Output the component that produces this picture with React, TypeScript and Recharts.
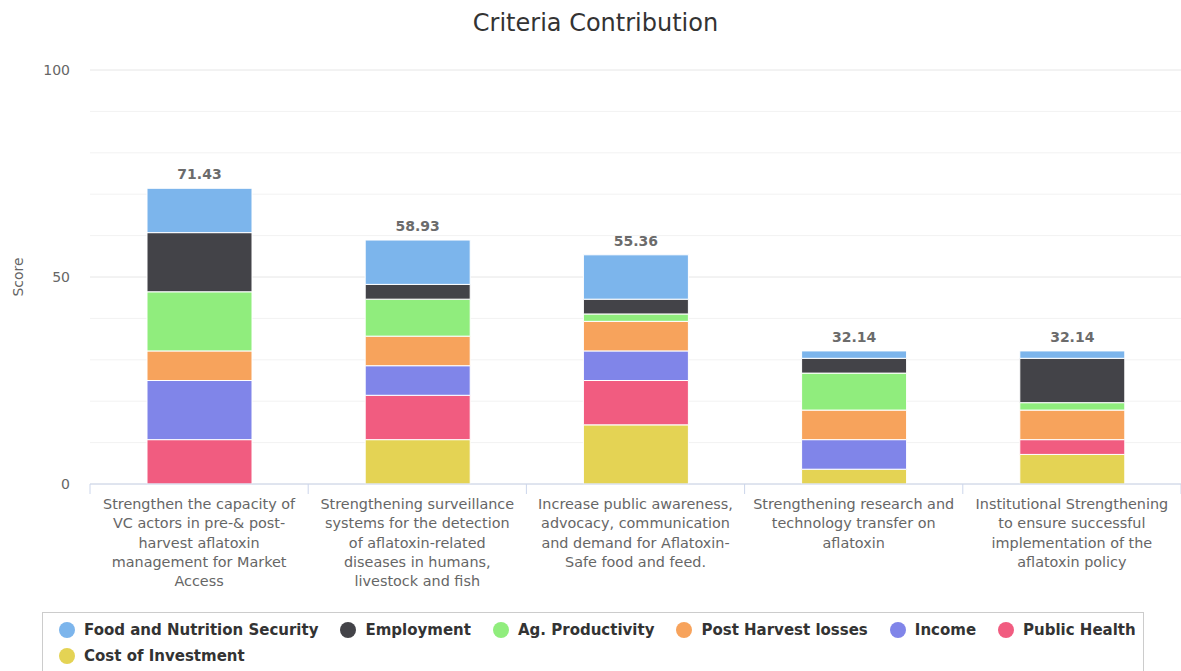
import React from 'react';
import { BarChart, Bar, XAxis, YAxis, CartesianGrid, LabelList } from 'recharts';

const categories = [
  'Strengthen the capacity of VC actors in pre-& post-harvest aflatoxin management for Market Access',
  'Strengthening surveillance systems for the detection of aflatoxin-related diseases in humans, livestock and fish',
  'Increase public awareness, advocacy, communication and demand for Aflatoxin-Safe food and feed.',
  'Strengthening research and technology transfer on aflatoxin',
  'Institutional Strengthening to ensure successful implementation of the aflatoxin policy',
];

const foodNutrition = [10.714, 10.714, 10.714, 1.786, 1.786];
const employment = [14.286, 3.571, 3.571, 3.571, 10.714];
const agProductivity = [14.286, 8.929, 1.786, 8.929, 1.786];
const postHarvest = [7.143, 7.143, 7.143, 7.143, 7.143];
const income = [14.286, 7.143, 7.143, 7.143, 0];
const publicHealth = [10.714, 10.714, 10.714, 0, 3.571];
const costInvestment = [0, 10.714, 14.286, 3.571, 7.143];

const majorTicks = [0, 50, 100];
const minorTicks = [10, 20, 30, 40, 60, 70, 80, 90];

// stacking order: bottom to top
const series = [
  { key: 'cost', name: 'Cost of Investment', values: costInvestment, color: '#e4d354' },
  { key: 'health', name: 'Public Health', values: publicHealth, color: '#f15c80' },
  { key: 'income', name: 'Income', values: income, color: '#8085e9' },
  { key: 'post', name: 'Post Harvest losses', values: postHarvest, color: '#f7a35c' },
  { key: 'ag', name: 'Ag. Productivity', values: agProductivity, color: '#90ed7d' },
  { key: 'emp', name: 'Employment', values: employment, color: '#434348' },
  { key: 'food', name: 'Food and Nutrition Security', values: foodNutrition, color: '#7cb5ec' },
];

const legendOrder = ['food', 'emp', 'ag', 'post', 'income', 'health', 'cost'];

const data = categories.map((c, i) => {
  const row: any = { category: c };
  let total = 0;
  series.forEach((s) => {
    row[s.key] = s.values[i];
    total += s.values[i];
  });
  row.total = total;
  return row;
});

const FONT = '"DejaVu Sans", "Open Sans", sans-serif';
const LABEL_SIZE = 14.4;

let ctx: CanvasRenderingContext2D | null = null;
function measure(s: string) {
  if (!ctx) {
    const c = document.createElement('canvas');
    ctx = c.getContext('2d');
  }
  if (!ctx) return s.length * 8;
  ctx.font = `${LABEL_SIZE}px "DejaVu Sans"`;
  return ctx.measureText(s).width;
}

function wrap(text: string, limit: number) {
  const pieces: { t: string; sep: string }[] = [];
  text.split(' ').forEach((w, wi) => {
    const parts = w.split(/(?<=-)/);
    parts.forEach((p, pi) => pieces.push({ t: p, sep: pi === 0 && wi > 0 ? ' ' : '' }));
  });
  const lines: string[] = [];
  let line = '';
  pieces.forEach((p) => {
    const cand = line === '' ? p.t : line + p.sep + p.t;
    if (line !== '' && measure(cand) > limit) {
      lines.push(line);
      line = p.t;
    } else {
      line = cand;
    }
  });
  if (line) lines.push(line);
  return lines;
}

const XTick = (props: any) => {
  const { x, y, payload, width, visibleTicksCount, index } = props;
  const band = width / visibleTicksCount;
  const lines = wrap(String(payload.value), 201);
  return (
    <g>
      <line x1={x - band / 2} x2={x - band / 2} y1={y} y2={y + 10} stroke="#ccd6eb" />
      {index === visibleTicksCount - 1 && (
        <line x1={x + band / 2} x2={x + band / 2} y1={y} y2={y + 10} stroke="#ccd6eb" />
      )}
      <text x={x} y={y + 25} textAnchor="middle" fill="#666" style={{ fontSize: LABEL_SIZE, fontFamily: FONT }}>
        {lines.map((l, i) => (
          <tspan key={i} x={x} dy={i === 0 ? 0 : 19.3}>
            {l}
          </tspan>
        ))}
      </text>
    </g>
  );
};

export default function App() {
  return (
    <div style={{ position: 'absolute', left: 0, top: 0, width: 1181, height: 671, background: '#fff', fontFamily: FONT, overflow: 'hidden' }}>
      <div style={{ position: 'absolute', top: 9, left: 10, width: 1171, textAlign: 'center', fontSize: 24, color: '#333' }}>
        Criteria Contribution
      </div>
      <BarChart
        width={1181}
        height={600}
        data={data}
        margin={{ top: 70, right: 0, bottom: 0, left: 0 }}
        style={{ position: 'absolute', left: 0, top: 0 }}
      >
        <CartesianGrid vertical={false} horizontalValues={minorTicks} stroke="#f2f2f2" />
        <CartesianGrid vertical={false} horizontalValues={majorTicks} stroke="#e6e6e6" />
        <XAxis
          dataKey="category"
          height={116}
          interval={0}
          tickSize={0}
          tickMargin={0}
          tickLine={false}
          stroke="#ccd6eb"
          tick={<XTick />}
        />
        <YAxis
          width={90}
          domain={[0, 100]}
          ticks={majorTicks}
          tickSize={0}
          tickMargin={20}
          axisLine={false}
          tickLine={false}
          tick={{ fill: '#666', fontSize: 14, fontFamily: FONT }}
          label={{
            content: (p: any) => {
              const vb = p.viewBox;
              const cx = vb.x + 18;
              const cy = vb.y + vb.height / 2;
              return (
                <text
                  x={cx}
                  y={cy}
                  transform={`rotate(-90 ${cx} ${cy})`}
                  textAnchor="middle"
                  dominantBaseline="central"
                  fill="#666"
                  style={{ fontSize: 14, fontFamily: FONT }}
                >
                  Score
                </text>
              );
            },
          }}
        />
        {series.map((s) => (
          <Bar
            key={s.key}
            dataKey={s.key}
            name={s.name}
            stackId="a"
            fill={s.color}
            stroke="#fff"
            strokeWidth={1}
            barSize={105}
            isAnimationActive={false}
          >
            {s.key === 'food' && (
              <LabelList
                dataKey="total"
                position="top"
                offset={9}
                formatter={(v: any) => Number(v).toFixed(2)}
                style={{ fill: '#6b6b6b', fontSize: 14, fontWeight: 'bold', fontFamily: FONT }}
              />
            )}
          </Bar>
        ))}
      </BarChart>
      <div
        style={{
          position: 'absolute',
          left: 42,
          top: 612,
          width: 1102,
          height: 80,
          border: '1px solid #ccc',
          boxSizing: 'border-box',
          padding: '4px 0 0 16px',
        }}
      >
        {[legendOrder.slice(0, 6), legendOrder.slice(6)].map((row, ri) => (
          <div key={ri} style={{ display: 'flex', height: 26, alignItems: 'center', whiteSpace: 'nowrap' }}>
            {row.map((k) => {
              const s = series.find((x) => x.key === k)!;
              return (
                <div key={k} style={{ display: 'flex', alignItems: 'center', marginRight: 22 }}>
                  <span style={{ width: 16, height: 16, borderRadius: 8, background: s.color, display: 'inline-block', marginRight: 9 }} />
                  <span style={{ fontSize: 15, fontWeight: 'bold', color: '#333' }}>{s.name}</span>
                </div>
              );
            })}
          </div>
        ))}
      </div>
    </div>
  );
}
